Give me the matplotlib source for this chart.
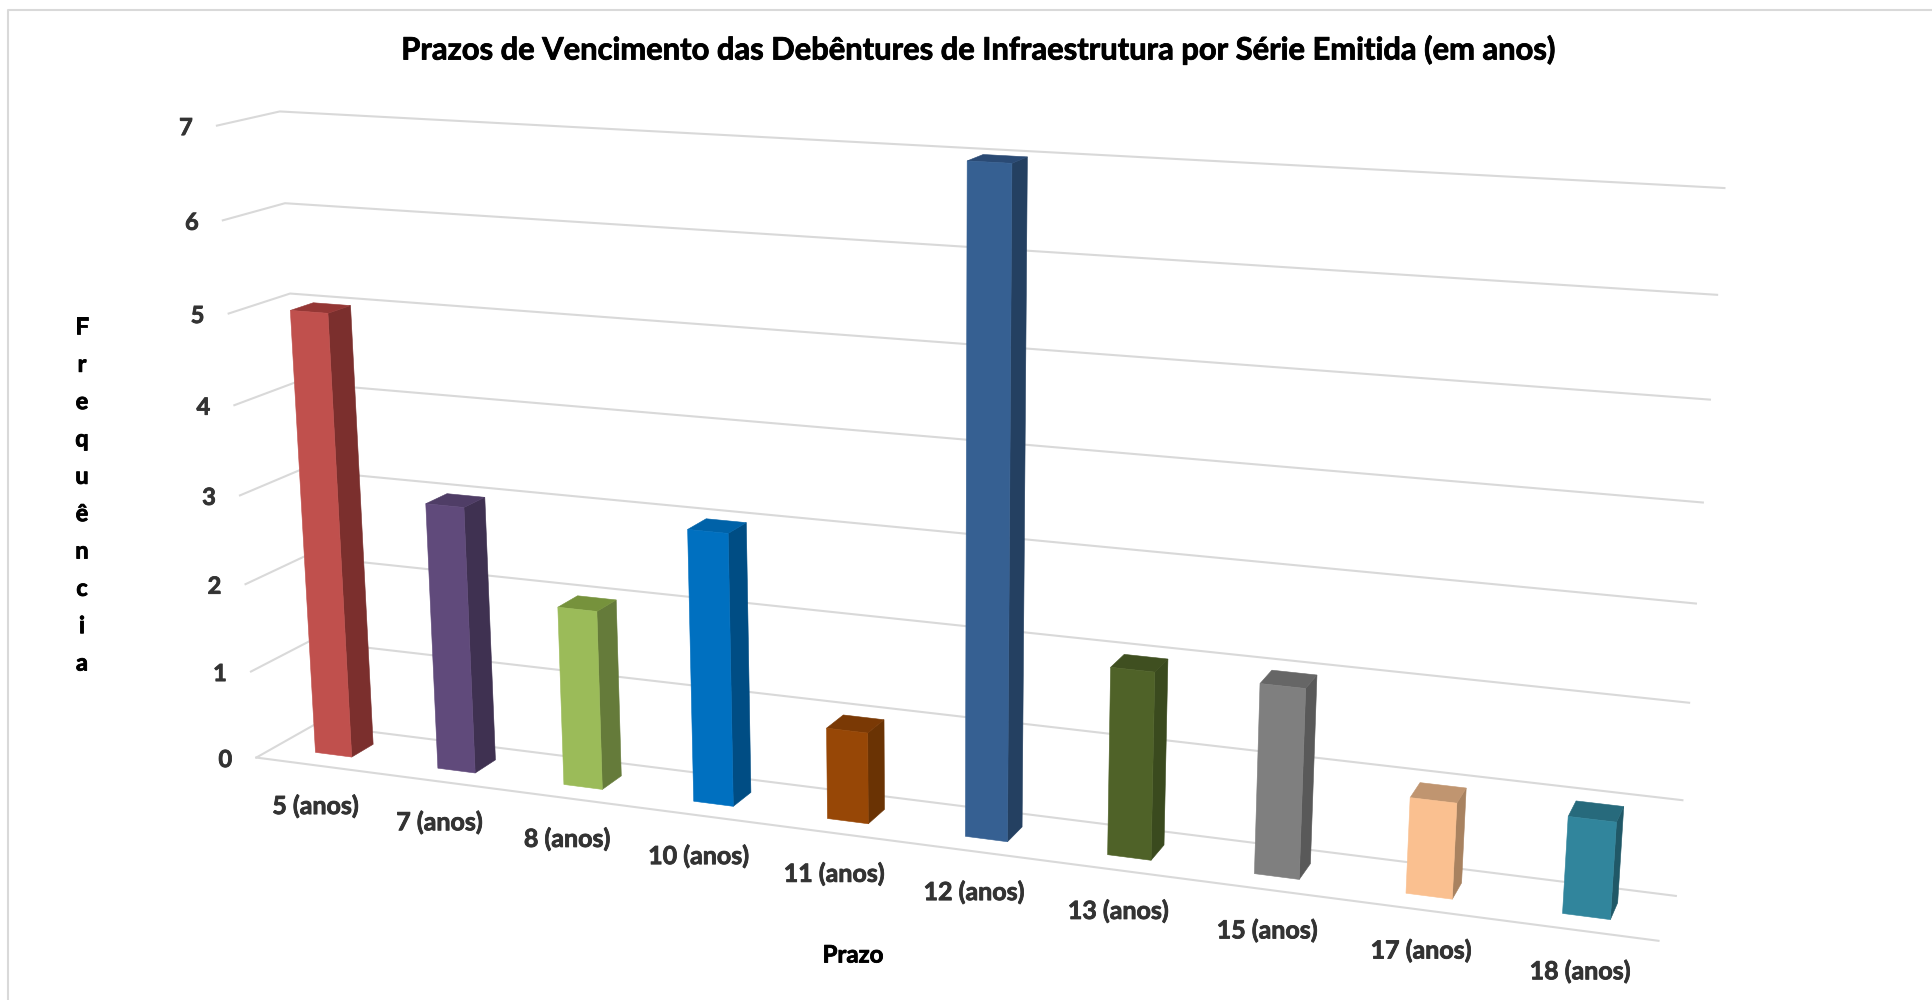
#!/usr/bin/env python3
"""Excel style 3D column chart: maturity terms of infrastructure debentures."""

import numpy as np
import matplotlib
matplotlib.use('Agg')
import matplotlib.pyplot as plt
import matplotlib.patheffects as pe
from matplotlib.patches import Polygon

WIDTH, HEIGHT = 1933, 1000

TITLE = 'Prazos de Vencimento das Debêntures de Infraestrutura por Série Emitida (em anos)'
CATEGORIES = ['5 (anos)', '7 (anos)', '8 (anos)', '10 (anos)', '11 (anos)',
              '12 (anos)', '13 (anos)', '15 (anos)', '17 (anos)', '18 (anos)']
VALUES = [5, 3, 2, 3, 1, 7, 2, 2, 1, 1]
Y_TICKS = [0, 1, 2, 3, 4, 5, 6, 7]

FRONT_COLORS = ['#C0504D', '#604A7B', '#9BBB59', '#0070C0', '#974706',
                '#366092', '#4F6228', '#7F7F7F', '#FAC090', '#31859C']
SIDE_COLORS = ['#7B2F2D', '#3F3151', '#657B3A', '#004D84', '#6A3304',
               '#244061', '#3A4A1E', '#595959', '#A88260', '#205867']
TOP_COLORS = ['#953735', '#4F3D66', '#76923C', '#0062A8', '#7A3905',
              '#2A4A74', '#3F4F20', '#666666', '#C09570', '#276A7C']

# box corners (x fraction, value, depth) and where they land in the image
CAL_BOX = [(0, 0, 0), (1, 0, 0), (0, 0, 1), (1, 0, 1), (0, 7, 1), (1, 7, 1), (0, 7, 0),
           (0, 1, 0), (0, 5, 0), (0, 6, 0), (0, 5, 1), (0, 6, 1), (1, 1, 1), (1, 2, 1)]
CAL_PIXEL = [(256.7, 757.3), (1658.7, 940.7), (314.6, 725), (1676.7, 896.7),
             (280, 111.7), (1725, 188.3), (216.7, 126), (250.7, 671.7), (228.7, 313),
             (222.7, 220.7), (290, 293), (285, 203), (1682, 800), (1688, 702)]

BAR_WIDTH = 0.30
CATEGORY_STEP = 1.003  # bars drift slightly right of an even split
DEPTH_FRONT = 0.31
DEPTH_BACK = 0.69
GRID_COLOR = '#D9D9D9'
TEXT_COLOR = '#333333'


def fit_camera(box, pixel):
    """Least squares fit of a 3x4 projective camera."""
    rows = []
    rhs = []
    for (x, v, d), (u, w) in zip(box, pixel):
        rows.append([x, v, d, 1, 0, 0, 0, 0, -u * x, -u * v, -u * d])
        rows.append([0, 0, 0, 0, x, v, d, 1, -w * x, -w * v, -w * d])
        rhs += [u, w]
    sol = np.linalg.lstsq(np.array(rows, float), np.array(rhs, float), rcond=None)[0]
    return np.append(sol, 1.0).reshape(3, 4)


CAMERA = fit_camera(CAL_BOX, CAL_PIXEL)


def project(x, v, d):
    p = CAMERA @ np.array([x, v, d, 1.0])
    return p[0] / p[2], p[1] / p[2]


def category_center(i):
    return (0.49 + CATEGORY_STEP * i) / len(VALUES)


def heavy(color, width=0.6):
    # Calibri bold is darker than Lato bold, thicken the glyphs a bit
    return [pe.withStroke(linewidth=width, foreground=color)]


def draw_bar(ax, i, value):
    x0 = category_center(i) - BAR_WIDTH / 2 / len(VALUES)
    x1 = category_center(i) + BAR_WIDTH / 2 / len(VALUES)
    d0, d1 = DEPTH_FRONT, DEPTH_BACK
    front = [project(x0, 0, d0), project(x1, 0, d0), project(x1, value, d0), project(x0, value, d0)]
    side = [project(x1, 0, d0), project(x1, 0, d1), project(x1, value, d1), project(x1, value, d0)]
    top = [project(x0, value, d0), project(x1, value, d0), project(x1, value, d1), project(x0, value, d1)]
    for pts, color in ((side, SIDE_COLORS[i]), (top, TOP_COLORS[i]), (front, FRONT_COLORS[i])):
        ax.add_patch(Polygon(pts, closed=True, facecolor=color, edgecolor=color, linewidth=0.4, zorder=3 + i))


def draw_grid(ax):
    for v in Y_TICKS:
        pts = [project(0, v, 0), project(0, v, 1), project(1, v, 1)]
        ax.plot([p[0] for p in pts], [p[1] for p in pts], color=GRID_COLOR, linewidth=1.5, zorder=1)
        ax.text(pts[0][0] - 31, pts[0][1] + 2, str(v), fontsize=17, fontweight='bold', color=TEXT_COLOR,
                ha='center', va='center', path_effects=heavy(TEXT_COLOR))
    a, b = project(0, 0, 0), project(1, 0, 0)
    ax.plot([a[0], b[0]], [a[1], b[1]], color=GRID_COLOR, linewidth=1.5, zorder=1)


def main():
    plt.rcParams['font.family'] = ['Lato', 'DejaVu Sans']
    fig = plt.figure(figsize=(WIDTH / 100, HEIGHT / 100), dpi=100)
    ax = fig.add_axes([0, 0, 1, 1])
    ax.set_xlim(0, WIDTH)
    ax.set_ylim(HEIGHT, 0)
    ax.axis('off')

    # chart area border
    ax.plot([8, 8, WIDTH], [HEIGHT, 10, 10], color=GRID_COLOR, linewidth=1.5)

    draw_grid(ax)
    for i, value in enumerate(VALUES):
        draw_bar(ax, i, value)

    for i, label in enumerate(CATEGORIES):
        px, py = project(category_center(i), 0, 0)
        ax.text(px, py + 41, label, fontsize=18, fontweight='bold', color=TEXT_COLOR,
                ha='center', va='center', path_effects=heavy(TEXT_COLOR))

    ax.text(979, 50, TITLE, fontsize=22.25, fontweight='bold', color='black', ha='center', va='center',
            path_effects=heavy('black'))
    ax.text(853, 955, 'Prazo', fontsize=17.3, fontweight='bold', color='black', ha='center', va='center',
            path_effects=heavy('black'))
    ax.text(82, 495, '\n'.join('Frequência'), fontsize=17, fontweight='bold', color='black',
            ha='center', va='center', linespacing=1.755, path_effects=heavy('black'))

    fig.savefig('out.png', dpi=100)


if __name__ == "__main__":
    main()
